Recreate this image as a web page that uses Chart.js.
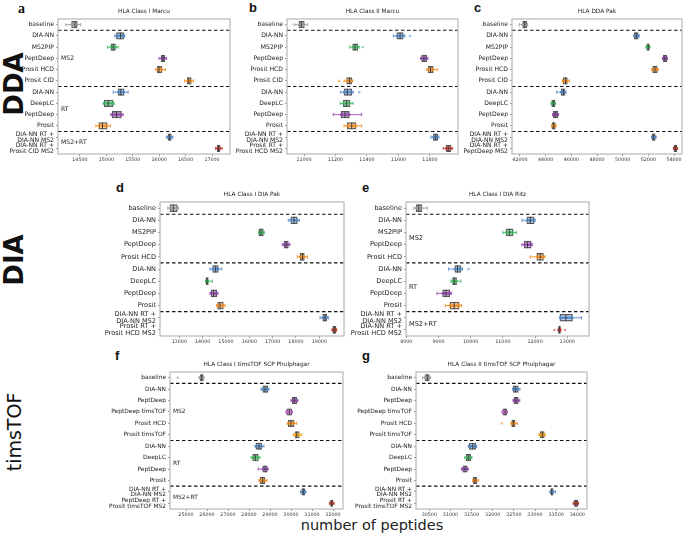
<!DOCTYPE html>
<html>
<head>
<meta charset="utf-8">
<script src="https://cdn.jsdelivr.net/npm/chart.js@4.4.1/dist/chart.umd.min.js"></script>
<style>
  body { margin: 0; background: #fff; width: 685px; height: 538px; position: relative; overflow: hidden; }
  canvas { position: absolute; }
  .t { position: absolute; color: #111; white-space: nowrap; line-height: 1; }
  .letter { font-family: "Liberation Sans", sans-serif; font-weight: bold; font-size: 13px; }
  .rot { transform: translate(-50%, -50%) rotate(-90deg); font-family: "DejaVu Sans", sans-serif; }
</style>
</head>
<body>
<div class="t letter" style="left:18px;top:2px;font-family:'Liberation Serif',serif;font-size:14px">a</div>
<div class="t letter" style="left:249px;top:1px">b</div>
<div class="t letter" style="left:474px;top:1px">c</div>
<div class="t letter" style="left:116px;top:181px">d</div>
<div class="t letter" style="left:362px;top:181px">e</div>
<div class="t letter" style="left:115px;top:349px">f</div>
<div class="t letter" style="left:362px;top:349px">g</div>
<div class="t rot" style="left:14px;top:84px;font-size:26px;font-weight:bold">DDA</div>
<div class="t rot" style="left:14px;top:260px;font-size:26px;font-weight:bold">DIA</div>
<div class="t rot" style="left:14px;top:432px;font-size:19px">timsTOF</div>
<div class="t" style="left:372px;top:525px;transform:translate(-50%,-50%);font-family:'DejaVu Sans',sans-serif;font-size:14.5px;color:#222">number of peptides</div>

<script>
// ---- data: five-number summaries [whisker low, q1, median, q3, whisker high] ----
const labelsA = ['baseline', 'DIA-NN', 'MS2PIP', 'PeptDeep', 'Prosit HCD', 'Prosit CID', 'DIA-NN', 'DeepLC', 'PeptDeep', 'Prosit', ['DIA-NN RT +', 'DIA-NN MS2'], ['DIA-NN RT +', 'Prosit CID MS2']];
const boxA = [
  [14236, 14343, 14406, 14449, 14513],
  [15160, 15192, 15267, 15330, 15349],
  [15022, 15085, 15129, 15173, 15223],
  [15997, 16041, 16072, 16104, 16136],
  [15934, 15965, 15997, 16053, 16116],
  [16481, 16532, 16562, 16607, 16651],
  [15129, 15223, 15274, 15336, 15412],
  [14940, 14959, 15035, 15129, 15148],
  [15085, 15110, 15192, 15286, 15318],
  [14802, 14858, 14927, 15016, 15079],
  [16135, 16166, 16198, 16230, 16261],
  [17066, 17097, 17123, 17153, 17192]
];
const ticksA = [14500, 15000, 15500, 16000, 16500, 17000];
const outA = [];

const labelsB = ['baseline', 'DIA-NN', 'MS2PIP', 'PeptDeep', 'Prosit HCD', 'Prosit CID', 'DIA-NN', 'DeepLC', 'PeptDeep', 'Prosit', ['DIA-NN RT +', 'DIA-NN MS2'], ['Prosit RT +', 'Prosit HCD MS2']];
const boxB = [
  [10937, 10968, 10983, 11002, 11023],
  [11567, 11589, 11610, 11630, 11641],
  [11288, 11309, 11324, 11341, 11351],
  [11740, 11747, 11762, 11779, 11787],
  [11779, 11789, 11804, 11821, 11846],
  [11254, 11271, 11288, 11303, 11309],
  [11233, 11254, 11275, 11303, 11313],
  [11229, 11250, 11271, 11292, 11313],
  [11186, 11235, 11260, 11288, 11366],
  [11254, 11275, 11303, 11330, 11366],
  [11806, 11821, 11836, 11849, 11857],
  [11884, 11902, 11916, 11933, 11944]
];
const ticksB = [11000, 11200, 11400, 11600, 11800];
const outB = [[1, 11673], [2, 11373], [5, 11222], [6, 11351]];

const labelsC = ['baseline', 'DIA-NN', 'MS2PIP', 'PeptDeep', 'Prosit HCD', 'Prosit CID', 'DIA-NN', 'DeepLC', 'PeptDeep', 'Prosit', ['DIA-NN RT +', 'DIA-NN MS2'], ['DIA-NN RT +', 'PeptDeep MS2']];
const boxC = [
  [41950, 42210, 42365, 42520, 42600],
  [50880, 50905, 51060, 51215, 51290],
  [51820, 51870, 51995, 52075, 52130],
  [53090, 53165, 53295, 53430, 53480],
  [52260, 52335, 52515, 52695, 52770],
  [45295, 45375, 45560, 45685, 45840],
  [44860, 45195, 45375, 45505, 45585],
  [44420, 44470, 44600, 44730, 44780],
  [44540, 44595, 44750, 44935, 44990],
  [44470, 44495, 44625, 44750, 44810],
  [52250, 52305, 52415, 52540, 52600],
  [53950, 54000, 54100, 54205, 54280]
];
const ticksC = [42000, 44000, 46000, 48000, 50000, 52000, 54000];
const outC = [];

const labelsD = ['baseline', 'DIA-NN', 'MS2PIP', 'PeptDeep', 'Prosit HCD', 'DIA-NN', 'DeepLC', 'PeptDeep', 'Prosit', ['DIA-NN RT +', 'DIA-NN MS2'], ['Prosit RT +', 'Prosit HCD MS2']];
const boxD = [
  [12503, 12601, 12743, 12914, 12957],
  [17672, 17775, 17916, 18058, 18143],
  [16390, 16416, 16502, 16602, 16640],
  [17416, 17488, 17574, 17672, 17745],
  [18058, 18174, 18272, 18358, 18486],
  [14316, 14430, 14558, 14673, 14817],
  [14130, 14144, 14187, 14244, 14416],
  [14316, 14359, 14473, 14602, 14660],
  [14600, 14644, 14745, 14887, 14960],
  [19031, 19146, 19245, 19317, 19388],
  [19545, 19575, 19645, 19717, 19745]
];
const ticksD = [13000, 14000, 15000, 16000, 17000, 18000, 19000];
const outD = [];

const labelsE = ['baseline', 'DIA-NN', 'MS2PIP', 'PeptDeep', 'Prosit HCD', 'DIA-NN', 'DeepLC', 'PeptDeep', 'Prosit', ['DIA-NN RT +', 'DIA-NN MS2'], ['DIA-NN RT +', 'Prosit HCD MS2']];
const boxE = [
  [8236, 8308, 8390, 8483, 8647],
  [11593, 11747, 11850, 11972, 12004],
  [10997, 11100, 11203, 11316, 11419],
  [11590, 11665, 11768, 11880, 11910],
  [11850, 12055, 12158, 12260, 12312],
  [9314, 9509, 9591, 9694, 9745],
  [9386, 9437, 9488, 9561, 9694],
  [8955, 9129, 9232, 9355, 9407],
  [9211, 9355, 9488, 9643, 9715],
  [12774, 12774, 12958, 13164, 13441],
  [12721, 12730, 12752, 12790, 12795]
];
const ticksE = [8000, 9000, 10000, 11000, 12000, 13000];
const outE = [[5, 9930], [10, 12600], [10, 12930]];

const labelsF = ['baseline', 'DIA-NN', 'PeptDeep', 'PeptDeep timsTOF', 'Prosit HCD', 'Prosit timsTOF', 'DIA-NN', 'DeepLC', 'PeptDeep', 'Prosit', ['DIA-NN RT +', 'DIA-NN MS2'], ['PeptDeep RT +', 'Prosit timsTOF MS2']];
const boxF = [
  [25619, 25667, 25748, 25824, 25857],
  [28571, 28652, 28762, 28890, 28952],
  [30000, 30062, 30157, 30271, 30333],
  [29760, 29795, 29919, 30033, 30070],
  [29824, 29871, 30000, 30143, 30271],
  [30110, 30190, 30271, 30395, 30510],
  [28286, 28333, 28476, 28605, 28714],
  [28095, 28176, 28300, 28443, 28524],
  [28443, 28652, 28762, 28871, 28905],
  [28476, 28524, 28652, 28762, 28857],
  [30452, 30510, 30586, 30667, 30714],
  [31830, 31881, 31938, 32000, 32050]
];
const ticksF = [25000, 26000, 27000, 28000, 29000, 30000, 31000, 32000];
const outF = [[0, 24605]];

const labelsG = ['baseline', 'DIA-NN', 'PeptDeep', 'PeptDeep timsTOF', 'Prosit HCD', 'Prosit timsTOF', 'DIA-NN', 'DeepLC', 'PeptDeep', 'Prosit', ['DIA-NN RT +', 'DIA-NN MS2'], ['Prosit RT +', 'Prosit timsTOF MS2']];
const boxG = [
  [30344, 30398, 30453, 30500, 30533],
  [32472, 32487, 32543, 32605, 32645],
  [32480, 32503, 32551, 32605, 32640],
  [32220, 32236, 32290, 32330, 32350],
  [32432, 32449, 32487, 32527, 32581],
  [33090, 33118, 33173, 33220, 33240],
  [31422, 31446, 31526, 31597, 31621],
  [31340, 31368, 31422, 31479, 31510],
  [31260, 31290, 31344, 31399, 31420],
  [31526, 31541, 31581, 31621, 31659],
  [33355, 33371, 33395, 33433, 33489],
  [33900, 33929, 33970, 34010, 34030]
];
const ticksG = [30500, 31000, 31500, 32000, 32500, 33000, 33500, 34000];
const outG = [[4, 32212]];

// ---- styling ----
const FONT = '"DejaVu Sans", sans-serif';
const GRAY = '#9a9a9a', BLUE = '#4f86c6', GREEN = '#3fb761', PURPLE = '#8e44ad',
      ORANGE = '#f28a1c', RED = '#c0392b', PINK = '#c55fc5', GOLD = '#f5a316';
const colorsABC = [GRAY, BLUE, GREEN, PURPLE, ORANGE, ORANGE, BLUE, GREEN, PURPLE, ORANGE, BLUE, RED];
const colorsDE = [GRAY, BLUE, GREEN, PURPLE, ORANGE, BLUE, GREEN, PURPLE, ORANGE, BLUE, RED];
const colorsFG = [GRAY, BLUE, PURPLE, PINK, ORANGE, GOLD, BLUE, GREEN, PURPLE, ORANGE, BLUE, RED];

function rgba(hex, a) {
  const n = parseInt(hex.slice(1), 16);
  return `rgba(${n >> 16},${(n >> 8) & 255},${n & 255},${a})`;
}

const boxExtras = {
  id: 'boxExtras',
  afterDatasetsDraw(chart, args, o) {
    const ctx = chart.ctx, xs = chart.scales.x, ys = chart.scales.y, ca = chart.chartArea;
    ctx.save();
    ctx.beginPath();
    ctx.rect(ca.left, ca.top, ca.right - ca.left, ca.bottom - ca.top);
    ctx.clip();
    const h = o.bar / 2;
    o.box.forEach((b, i) => {
      const y = ys.getPixelForValue(i), c = o.colors[i];
      const [lo, q1, md, q3, hi] = b.map(v => xs.getPixelForValue(v));
      // whiskers + caps
      ctx.strokeStyle = rgba(c, 0.85);
      ctx.lineWidth = 1;
      ctx.beginPath();
      ctx.moveTo(lo, y); ctx.lineTo(hi, y);
      ctx.moveTo(lo, y - h * 0.5); ctx.lineTo(lo, y + h * 0.5);
      ctx.moveTo(hi, y - h * 0.5); ctx.lineTo(hi, y + h * 0.5);
      ctx.stroke();
      // strip of points
      ctx.strokeStyle = rgba(c, 0.9);
      ctx.lineWidth = 2.4;
      ctx.beginPath();
      ctx.moveTo(q1 - 1, y); ctx.lineTo(q3 + 1, y);
      ctx.stroke();
      // median
      ctx.strokeStyle = '#3a3a3a';
      ctx.lineWidth = 1;
      ctx.beginPath();
      ctx.moveTo(md, y - h); ctx.lineTo(md, y + h);
      ctx.stroke();
    });
    o.out.forEach(([i, v]) => {
      ctx.fillStyle = rgba(o.colors[i], 0.6);
      ctx.beginPath();
      ctx.arc(xs.getPixelForValue(v), ys.getPixelForValue(i), 1.2, 0, Math.PI * 2);
      ctx.fill();
    });
    // group separators
    ctx.setLineDash([3.5, 2.5]);
    ctx.strokeStyle = '#111';
    ctx.lineWidth = 1.1;
    o.seps.forEach(i => {
      const y = (ys.getPixelForValue(i) + ys.getPixelForValue(i + 1)) / 2;
      ctx.beginPath(); ctx.moveTo(ca.left, y); ctx.lineTo(ca.right, y); ctx.stroke();
    });
    ctx.setLineDash([]);
    // group labels
    ctx.fillStyle = '#222';
    ctx.font = `${o.fs}px ${FONT}`;
    ctx.textAlign = 'left';
    ctx.textBaseline = 'middle';
    o.groups.forEach(([t, pos]) => ctx.fillText(t, ca.left + 3, ys.getPixelForValue(pos)));
    ctx.restore();
  },
  afterDraw(chart, args, o) {
    const ctx = chart.ctx, ca = chart.chartArea;
    ctx.save();
    ctx.strokeStyle = '#b8b8b8';
    ctx.lineWidth = 1.2;
    ctx.strokeRect(ca.left, ca.top, ca.right - ca.left, ca.bottom - ca.top);
    ctx.fillStyle = '#222';
    ctx.font = `5.8px ${FONT}`;
    ctx.textAlign = 'center';
    ctx.textBaseline = 'middle';
    ctx.fillText(o.title, (ca.left + ca.right) / 2, ca.top - 8);
    ctx.restore();
  }
};

const W = 110, PT = 16, PR = 12, PB = 14;

function makePanel(p) {
  const cv = document.createElement('canvas');
  const cw = p.R - p.L + W + PR, chh = p.B - p.T + PT + PB;
  cv.width = cw; cv.height = chh;
  cv.style.left = (p.L - W) + 'px';
  cv.style.top = (p.T - PT) + 'px';
  cv.style.width = cw + 'px';
  cv.style.height = chh + 'px';
  document.body.appendChild(cv);

  new Chart(cv.getContext('2d'), {
    type: 'bar',
    data: {
      labels: p.labels,
      datasets: [{
        data: p.box.map(b => [b[1], b[3]]),
        backgroundColor: p.colors.map(c => rgba(c, 0.35)),
        borderColor: '#5a5a5a',
        borderWidth: 0.8,
        borderSkipped: false,
        barThickness: p.bar
      }]
    },
    options: {
      indexAxis: 'y',
      responsive: false,
      animation: false,
      devicePixelRatio: 1,
      layout: { padding: { top: PT, right: PR, left: 0, bottom: 0 } },
      plugins: {
        legend: { display: false },
        tooltip: { enabled: false },
        boxExtras: { box: p.box, out: p.out, colors: p.colors, seps: p.seps, groups: p.groups, title: p.title, bar: p.bar, fs: p.fs }
      },
      scales: {
        x: {
          type: 'linear', min: p.xmin, max: p.xmax,
          afterBuildTicks: s => { s.ticks = p.ticks.map(v => ({ value: v })); },
          afterFit: s => { s.height = PB; },
          ticks: { font: { size: 4.8, family: FONT }, color: '#333', padding: 1, maxRotation: 0, autoSkip: false, callback: v => String(v) },
          grid: { drawOnChartArea: false, drawTicks: true, tickLength: 2, color: '#555', lineWidth: 0.6 },
          border: { display: false }
        },
        y: {
          afterFit: s => { s.width = W; },
          ticks: { font: { size: p.fs, family: FONT, lineHeight: 0.95 }, color: '#222', padding: 2, autoSkip: false },
          grid: { offset: false, drawOnChartArea: false, drawTicks: true, tickLength: 2, color: '#555', lineWidth: 0.6 },
          border: { display: false }
        }
      }
    },
    plugins: [boxExtras]
  });
}

const grp12 = [['MS2', 3], ['RT', 7.5], ['MS2+RT', 10.5]];
const grp11 = [['MS2', 2.5], ['RT', 6.5], ['MS2+RT', 9.5]];

[
  { L: 58, R: 230, T: 19, B: 154, labels: labelsA, box: boxA, ticks: ticksA, xmin: 14085, xmax: 17340, out: outA, colors: colorsABC, seps: [0, 5, 9], groups: grp12, title: 'HLA Class I Marcu', fs: 6.1, bar: 6.5 },
  { L: 287, R: 458, T: 19, B: 154, labels: labelsB, box: boxB, ticks: ticksB, xmin: 10892, xmax: 11978, out: outB, colors: colorsABC, seps: [0, 5, 9], groups: [], title: 'HLA Class II Marcu', fs: 6.1, bar: 6.5 },
  { L: 512, R: 682, T: 19, B: 154, labels: labelsC, box: boxC, ticks: ticksC, xmin: 41377, xmax: 54620, out: outC, colors: colorsABC, seps: [0, 5, 9], groups: [], title: 'HLA DDA Pak', fs: 6.1, bar: 6.5 },
  { L: 160, R: 344, T: 202, B: 336, labels: labelsD, box: boxD, ticks: ticksD, xmin: 12173, xmax: 20058, out: outD, colors: colorsDE, seps: [0, 4, 8], groups: [], title: 'HLA Class I DIA Pak', fs: 6.6, bar: 7 },
  { L: 406, R: 589, T: 202, B: 336, labels: labelsE, box: boxE, ticks: ticksE, xmin: 7990, xmax: 13676, out: outE, colors: colorsDE, seps: [0, 4, 8], groups: grp11, title: 'HLA Class I DIA Ritz', fs: 6.6, bar: 7 },
  { L: 170, R: 343, T: 372, B: 509, labels: labelsF, box: boxF, ticks: ticksF, xmin: 24238, xmax: 32476, out: outF, colors: colorsFG, seps: [0, 5, 9], groups: grp12, title: 'HLA Class I timsTOF SCP Phulphagar', fs: 5.9, bar: 6.5 },
  { L: 416, R: 587, T: 372, B: 509, labels: labelsG, box: boxG, ticks: ticksG, xmin: 30185, xmax: 34230, out: outG, colors: colorsFG, seps: [0, 5, 9], groups: [], title: 'HLA Class II timsTOF SCP Phulphagar', fs: 5.9, bar: 6.5 }
].forEach(makePanel);
</script>
</body>
</html>
